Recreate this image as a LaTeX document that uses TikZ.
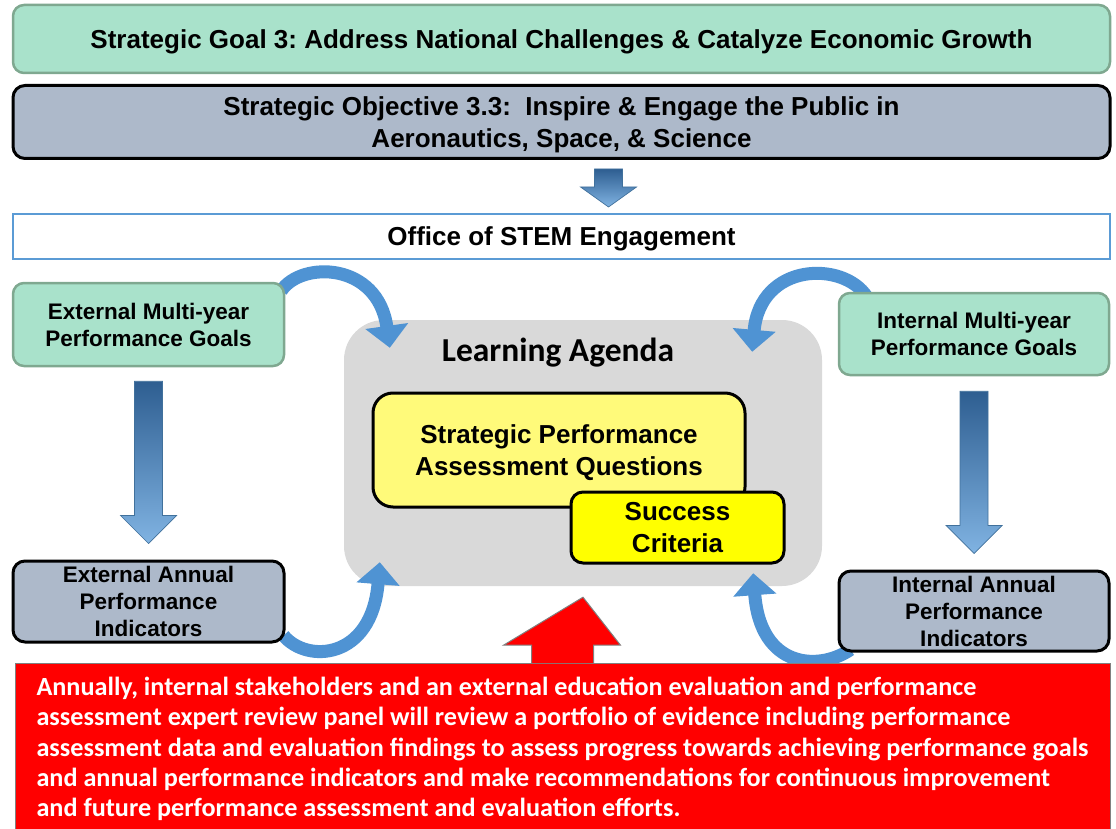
\documentclass[tikz,border=0pt]{standalone}
\usepackage{fontspec}
\setmainfont{Liberation Sans}
\newfontfamily\calibri{Carlito}
\usetikzlibrary{calc,arrows.meta}
\frenchspacing

\definecolor{mint}{HTML}{A9E2CB}
\definecolor{mintline}{HTML}{7FA890}
\definecolor{slate}{HTML}{ADB9CA}
\definecolor{officeline}{HTML}{5B9BD5}
\definecolor{agendagray}{HTML}{D9D9D9}
\definecolor{paleyellow}{HTML}{FFFA7A}
\definecolor{brightyellow}{HTML}{FFFF00}
\definecolor{reviewred}{HTML}{FF0000}
\definecolor{arrowblue}{HTML}{4F93D3}
\definecolor{arrowdark}{HTML}{2E5E91}
\definecolor{arrowlight}{HTML}{80B3E2}
\definecolor{arrowedge}{HTML}{41719C}

\pgfdeclarelayer{back}
\pgfdeclarelayer{mid}
\pgfsetlayers{back,mid,main}

\tikzset{
  bigtext/.style={font=\bfseries\fontsize{26}{32}\selectfont, text depth=0pt},
  sidetext/.style={font=\bfseries\fontsize{22.5}{27}\selectfont},
  goalbox/.style={draw=mintline, fill=mint, line width=2.5, rounded corners=11, inner sep=0, align=center},
  slatebox/.style={draw=black, fill=slate, line width=3, rounded corners=12, inner sep=0, align=center},
  yellowbox/.style={draw=black, line width=3, inner sep=0, align=center, bigtext},
  bendarrow/.style={draw=arrowblue, line width=13, -{Triangle[width=42pt,length=22pt]}},
}

% shaded block arrow pointing down, from #1 to #2, head length #3
\newcommand{\blockdown}[3]{%
  \shade[top color=arrowdark, bottom color=arrowlight, draw=arrowedge, line width=0.7]
    let \p1=(#1), \p2=(#2) in
    (\x1-14pt,\y1) -- (\x1+14pt,\y1) -- (\x1+14pt,\y2+#3pt) -- (\x1+28pt,\y2+#3pt)
    -- (\x2,\y2) -- (\x1-28pt,\y2+#3pt) -- (\x1-14pt,\y2+#3pt) -- cycle;}

\begin{document}
\begin{tikzpicture}[x=1pt, y=-1pt]

\useasboundingbox (0,0) rectangle (1116,829);

% top of the plan
\node[goalbox, bigtext, minimum width=1097, minimum height=68] (goal) at (561.5,39)
{Strategic Goal 3: Address National Challenges \& Catalyze Economic Growth};

\node[slatebox, bigtext, minimum width=1097, minimum height=73] (objective) at (561.5,122)
{Strategic Objective 3.3:\ \ Inspire \& Engage the Public in\\
Aeronautics, Space, \& Science};

\node[draw=officeline, fill=white, line width=2, minimum width=1097, minimum height=45, inner sep=0, bigtext] (office) at (561.5,236.5)
{Office of STEM Engagement};

\blockdown{$(objective.south)+(47,9)$}{$(office.north)+(47,-6)$}{20}

% side boxes
\node[goalbox, sidetext, minimum width=271, minimum height=83] (extgoal) at (148.5,324.5)
{External Multi-year\\ Performance Goals};

\node[goalbox, sidetext, minimum width=270, minimum height=82] (intgoal) at (974,334)
{Internal Multi-year\\ Performance Goals};

\node[slatebox, sidetext, minimum width=271, minimum height=81] (extind) at (148.5,601.5)
{External Annual\\ Performance\\ Indicators};

\node[slatebox, sidetext, minimum width=270, minimum height=80] (intind) at (974,611)
{Internal Annual\\ Performance\\ Indicators};

\blockdown{$(extgoal.south)+(0,14)$}{$(extind.north)+(0,-16)$}{28}
\blockdown{$(intgoal.south)+(0,15)$}{$(intind.north)+(0,-16)$}{28}

% learning agenda
\begin{pgfonlayer}{back}
\node[fill=agendagray, rounded corners=40, minimum width=478, minimum height=266] (agenda) at (583,453) {};
\end{pgfonlayer}

\node[font=\calibri\bfseries\fontsize{33.5}{38}\selectfont] (agendatitle) at (558,353) {Learning Agenda};

\node[yellowbox, fill=paleyellow, rounded corners=20, minimum width=372, minimum height=114] (spaq) at (559,450)
{Strategic Performance\\ Assessment Questions};

\node[yellowbox, fill=brightyellow, rounded corners=12, minimum width=213, minimum height=71] (success) at (677.5,527.5)
{Success\\ Criteria};

% curved arrows into the agenda
\begin{pgfonlayer}{mid}
\draw[bendarrow] ($(extgoal.north east)+(-4,9)$) .. controls +(20,-30) and +(-12,-86) .. ($(agenda.north west)+(46,28)$);
\draw[bendarrow] ($(intgoal.north west)+(29,5)$) .. controls +(-23,-36) and +(8,-90) .. ($(agenda.north east)+(-70,32)$);
\draw[bendarrow] ($(extind.south east)+(-2,-8)$) .. controls +(23,28) and +(-8,98) .. ($(agenda.south west)+(36,-24)$);
\draw[bendarrow] ($(intind.south west)+(13,-3)$) .. controls +(-32,22) and +(7,95) .. ($(agenda.south east)+(-69,-13)$);
\end{pgfonlayer}

% review panel
\node[fill=reviewred, draw=gray, line width=1, minimum width=1095, minimum height=172, inner sep=0, align=left, text=white,
      font=\calibri\bfseries\fontsize{26.2}{30.2}\selectfont] (review) at (562.5,749)
{Annually, internal stakeholders and an external education evaluation and performance\\
assessment expert review panel will review a portfolio of evidence including performance\\
assessment data and evaluation findings to assess progress towards achieving performance goals\\
and annual performance indicators and make recommendations for continuous improvement\\
and future performance assessment and evaluation efforts.};

\draw[fill=reviewred, draw=gray, line width=1]
  let \p1=(review.north), \p2=($(agenda.south)+(0,11)$) in
  (\x1-31pt,\y1-0.5pt) -- (\x1-31pt,\y2-48pt) -- (\x1-59pt,\y2-48pt) -- (\x2,\y2)
  -- (\x1+58pt,\y2-48pt) -- (\x1+31pt,\y2-48pt) -- (\x1+31pt,\y1-0.5pt);

\end{tikzpicture}
\end{document}
